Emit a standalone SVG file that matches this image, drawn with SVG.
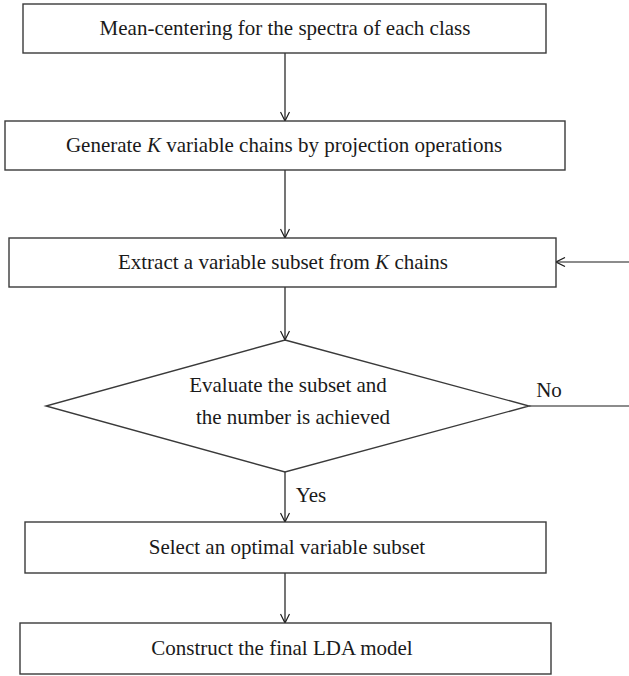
<svg xmlns="http://www.w3.org/2000/svg" width="629" height="676" viewBox="0 0 629 676">
<style>
.box{fill:#fff;stroke:#3a3a3a;stroke-width:1.4}
.t{font-family:"Liberation Serif","Times New Roman",serif;font-size:21px;fill:#1a1a1a;text-anchor:middle}
.c{fill:none;stroke:#1a1a1a;stroke-width:1.2}
</style>
<defs>
<marker id="ah" viewBox="0 0 10 10" refX="10" refY="5" markerWidth="10" markerHeight="10" markerUnits="userSpaceOnUse" orient="auto">
<polyline points="1,0.5 10,5 1,9.5" fill="none" stroke="#1a1a1a" stroke-width="1.2"/>
</marker>
</defs>
<rect width="629" height="676" fill="#fff"/>
<g id="connectors">
<line class="c" x1="285" y1="53" x2="285" y2="121" marker-end="url(#ah)"/>
<line class="c" x1="285" y1="170" x2="285" y2="238" marker-end="url(#ah)"/>
<line class="c" x1="285" y1="287" x2="285" y2="340" marker-end="url(#ah)"/>
<line class="c" x1="285" y1="472" x2="285" y2="522" marker-end="url(#ah)"/>
<line class="c" x1="285" y1="573" x2="285" y2="623" marker-end="url(#ah)"/>
<line class="c" x1="529" y1="406" x2="629" y2="406"/>
<line class="c" x1="629" y1="262" x2="556" y2="262" marker-end="url(#ah)"/>
<text class="t" x="549" y="397">No</text>
<text class="t" x="311" y="502">Yes</text>
</g>
<g id="n1"><rect class="box" x="23" y="4" width="523" height="49"/><text class="t" x="285" y="35">Mean-centering for the spectra of each class</text></g>
<g id="n2"><rect class="box" x="5" y="121" width="560" height="49"/><text class="t" x="284" y="152">Generate <tspan font-style="italic">K</tspan> variable chains by projection operations</text></g>
<g id="n3"><rect class="box" x="9" y="238" width="547" height="49"/><text class="t" x="283" y="269">Extract a variable subset from <tspan font-style="italic">K</tspan> chains</text></g>
<g id="n4"><polygon class="box" points="285,340 529,406 285,472 46,406"/><text class="t" x="288" y="392">Evaluate the subset and</text><text class="t" x="293" y="424">the number is achieved</text></g>
<g id="n5"><rect class="box" x="25" y="522" width="521" height="51"/><text class="t" x="287" y="554">Select an optimal variable subset</text></g>
<g id="n6"><rect class="box" x="20" y="623" width="531" height="51"/><text class="t" x="282" y="655">Construct the final LDA model</text></g>
</svg>
